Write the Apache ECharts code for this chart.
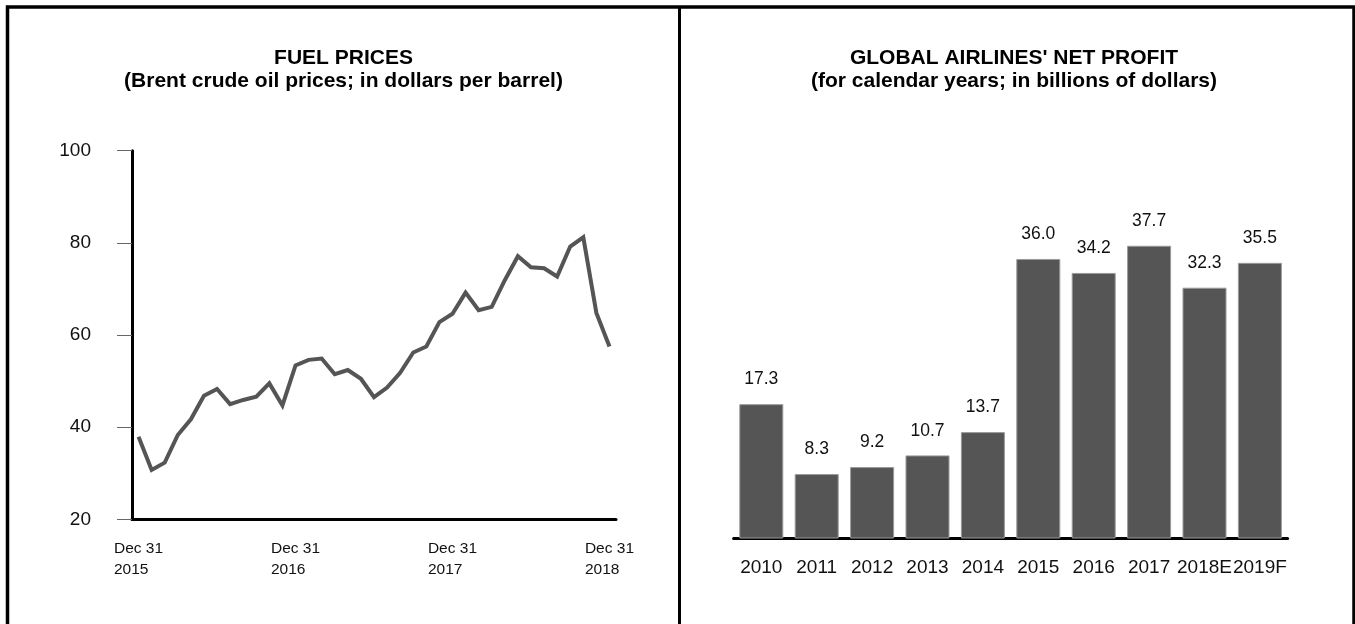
<!DOCTYPE html>
<html>
<head>
<meta charset="utf-8">
<title>Fuel prices and airline net profit</title>
<script src="https://cdn.jsdelivr.net/npm/echarts@6/dist/echarts.min.js"></script>
<style>
  html, body { margin: 0; padding: 0; background: #fff; }
  #chart { width: 1355px; height: 624px; }
</style>
</head>
<body>
<div id="chart"></div>
<script>
// Brent crude, monthly from Dec 31 2015 to Dec 31 2018 (dollars per barrel)
const brentPrices = [
  37.9, 30.7, 32.3, 38.3, 41.7, 46.8, 48.3, 45.0, 45.9, 46.6, 49.5, 44.7,
  53.4, 54.6, 54.9, 51.5, 52.4, 50.5, 46.5, 48.6, 51.8, 56.2, 57.5, 62.8,
  64.6, 69.2, 65.4, 66.1, 71.9, 77.1, 74.7, 74.5, 72.7, 79.2, 81.2, 64.8,
  57.5
];
const dateTickLabels = ['Dec 31\n2015', 'Dec 31\n2016', 'Dec 31\n2017', 'Dec 31\n2018'];
const priceAxisMin = 20;
const priceAxisMax = 100;
const priceAxisStep = 20;

// Global airlines' net profit (billions of dollars)
const profitYears = ['2010', '2011', '2012', '2013', '2014', '2015', '2016', '2017', '2018E', '2019F'];
const netProfit = [17.3, 8.3, 9.2, 10.7, 13.7, 36.0, 34.2, 37.7, 32.3, 35.5];

const FONT = '"Liberation Sans", Arial, Helvetica, sans-serif';
const monthIndex = brentPrices.map((_, i) => String(i));

const chart = echarts.init(document.getElementById('chart'), null, { renderer: 'canvas' });

chart.setOption({
  animation: false,
  backgroundColor: '#ffffff',
  textStyle: { fontFamily: FONT, color: '#111' },
  title: [
    {
      text: 'FUEL PRICES\n(Brent crude oil prices; in dollars per barrel)',
      left: 343.5, top: 46.8, textAlign: 'center', padding: 0,
      textStyle: { fontFamily: FONT, fontSize: 21, fontWeight: 'bold', lineHeight: 23, color: '#000' }
    },
    {
      text: "GLOBAL AIRLINES' NET PROFIT\n(for calendar years; in billions of dollars)",
      left: 1014, top: 46.8, textAlign: 'center', padding: 0,
      textStyle: { fontFamily: FONT, fontSize: 21, fontWeight: 'bold', lineHeight: 23, color: '#000' }
    }
  ],
  grid: [
    { left: 132, top: 150.7, width: 484, height: 368.6, containLabel: false },
    { left: 733.6, top: 227.9, width: 554, height: 310.6, containLabel: false }
  ],
  xAxis: [
    {
      gridIndex: 0,
      type: 'category',
      data: monthIndex,
      boundaryGap: true,
      axisLine: { lineStyle: { color: '#000', width: 3 } },
      axisTick: { show: false },
      axisLabel: {
        interval: (i) => i % 12 === 0,
        margin: 19,
        formatter: (v, i) => {
          const t = dateTickLabels[i / 12];
          return t ? t.split('\n').map(s => '{a|' + s + '}').join('\n') : '';
        },
        rich: {
          a: { fontFamily: FONT, fontSize: 15.5, lineHeight: 20.8, align: 'left', color: '#111' }
        }
      },
      splitLine: { show: false }
    },
    {
      gridIndex: 1,
      type: 'category',
      data: profitYears,
      axisLine: { lineStyle: { color: '#000', width: 3 } },
      axisTick: { show: false },
      axisLabel: {
        interval: 0, hideOverlap: false, margin: 20,
        fontFamily: FONT, fontSize: 19, color: '#111'
      },
      splitLine: { show: false }
    }
  ],
  yAxis: [
    {
      gridIndex: 0,
      type: 'value',
      min: priceAxisMin, max: priceAxisMax, interval: priceAxisStep,
      axisLine: { show: true, lineStyle: { color: '#000', width: 3 } },
      axisTick: { show: true, inside: false, length: 15, lineStyle: { color: '#666', width: 1 } },
      axisLabel: { margin: 41, fontFamily: FONT, fontSize: 19, color: '#111' },
      splitLine: { show: false }
    },
    {
      gridIndex: 1,
      type: 'value',
      min: 0, max: 40,
      show: false,
      splitLine: { show: false }
    }
  ],
  series: [
    {
      type: 'line',
      xAxisIndex: 0, yAxisIndex: 0,
      data: brentPrices,
      symbol: 'none',
      lineStyle: { color: '#555555', width: 4, join: 'miter' },
      silent: true
    },
    {
      type: 'bar',
      xAxisIndex: 1, yAxisIndex: 1,
      data: netProfit,
      barWidth: 44,
      itemStyle: { color: '#555555', borderColor: '#9a9a9a', borderWidth: 1 },
      label: {
        show: true, position: 'top', distance: 15.5,
        fontFamily: FONT, fontSize: 17.5, color: '#111',
        formatter: (p) => p.value.toFixed(1)
      },
      silent: true
    }
  ],
  graphic: [
    {
      type: 'rect', silent: true,
      shape: { x: 7.5, y: 7, width: 1346.5, height: 700 },
      style: { fill: null, stroke: '#000', lineWidth: 3.5 }
    },
    {
      type: 'line', silent: true,
      shape: { x1: 679.5, y1: 7, x2: 679.5, y2: 624 },
      style: { stroke: '#000', lineWidth: 3 }
    }
  ]
});
</script>
</body>
</html>
